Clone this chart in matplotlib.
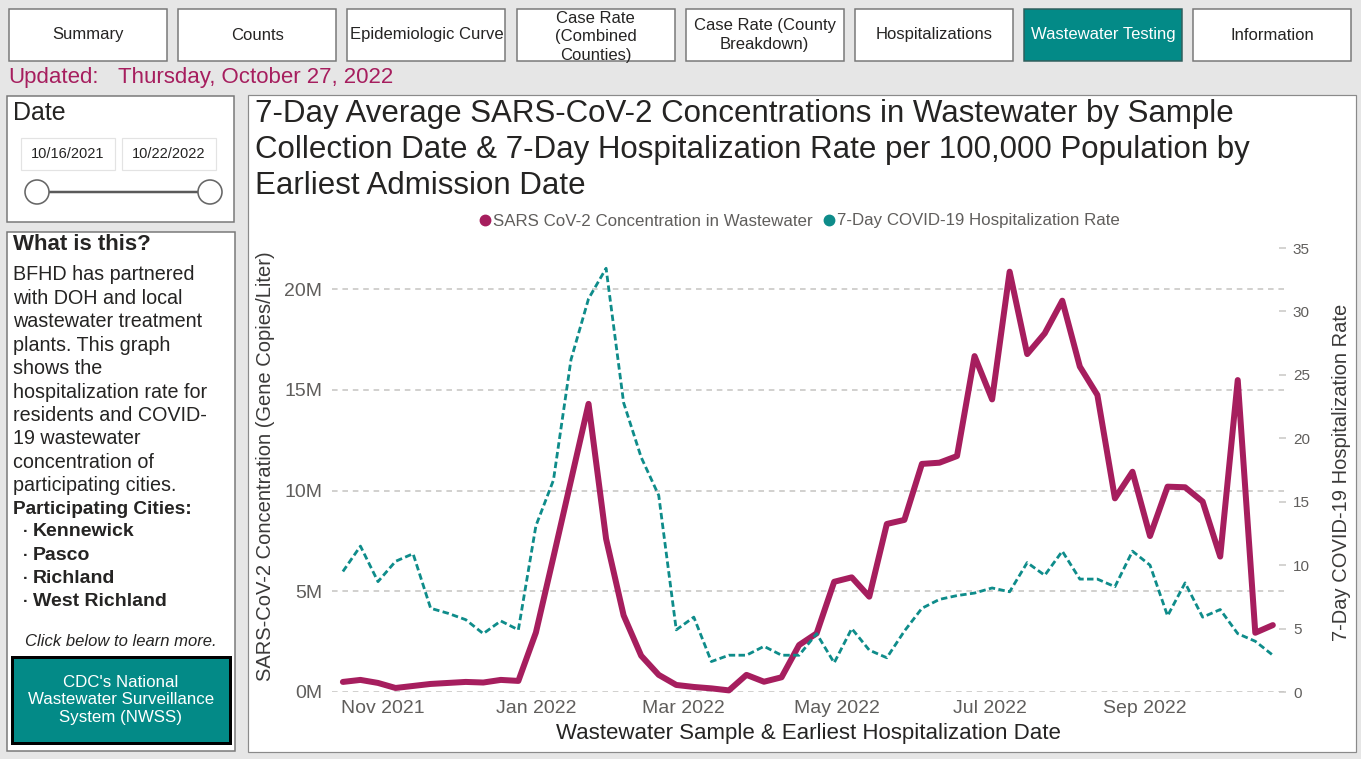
import matplotlib
matplotlib.use('Agg')
import matplotlib.pyplot as plt
import matplotlib.dates as mdates
from matplotlib.patches import Rectangle, Circle
from matplotlib.lines import Line2D
from matplotlib.ticker import FuncFormatter
import numpy as np
import pandas as pd

plt.rcParams['font.family'] = ['Liberation Sans', 'DejaVu Sans']

# weekly sample dates (10/16/2021 .. 10/22/2022)
weeks = pd.date_range('2021-10-16', '2022-10-22', freq='7D')

# 7-day avg SARS-CoV-2 concentration, millions of gene copies / liter
wastewater_m = [0.5, 0.6, 0.45, 0.2, 0.3, 0.4, 0.45, 0.5, 0.47, 0.6, 0.55,
                2.95, 6.7, 10.5, 14.3, 7.6, 3.8, 1.8, 0.85, 0.35,
                0.25, 0.18, 0.08,
                0.85, 0.51, 0.73, 2.33, 2.91, 5.47, 5.69, 4.73, 8.34, 8.54,
                11.32, 11.38, 11.71, 16.67, 14.52, 20.86, 16.77, 17.8, 19.42, 16.15,
                14.74, 9.61, 10.93, 7.74, 10.19, 10.16, 9.45, 6.72, 15.48, 2.94,
                3.32]

# 7-day hospitalization rate per 100,000
hosp_rate = [9.5, 11.5, 8.7, 10.3, 10.9, 6.6, 6.2, 5.7, 4.6, 5.6, 4.9,
             13.1, 16.7, 26.2, 31.0, 33.4, 22.8, 18.5, 15.5, 4.9, 5.9,
             2.4, 2.9, 2.9, 3.6, 2.9, 2.9, 4.6, 2.3, 5.0, 3.3,
             2.7, 4.8, 6.6, 7.3, 7.6, 7.8, 8.2, 7.9, 10.2, 9.2,
             11.1, 8.9, 8.9, 8.3, 11.1, 10.0, 6.0, 8.6, 5.9, 6.5,
             4.6, 4.0, 2.9]

month_ticks = ['2021-11-01', '2022-01-01', '2022-03-01', '2022-05-01', '2022-07-01', '2022-09-01']
left_ticks = [0, 5, 10, 15, 20]
right_ticks = [0, 5, 10, 15, 20, 25, 30, 35]

nav_labels = ['Summary', 'Counts', 'Epidemiologic Curve', 'Case Rate\n(Combined\nCounties)',
              'Case Rate (County\nBreakdown)', 'Hospitalizations', 'Wastewater Testing', 'Information']
active_tab = 'Wastewater Testing'

title_lines = ['7-Day Average SARS-CoV-2 Concentrations in Wastewater by Sample',
               'Collection Date & 7-Day Hospitalization Rate per 100,000 Population by',
               'Earliest Admission Date']
about_lines = ['BFHD has partnered', 'with DOH and local', 'wastewater treatment',
               'plants. This graph', 'shows the', 'hospitalization rate for',
               'residents and COVID-', '19 wastewater', 'concentration of',
               'participating cities.']
cities = ['Kennewick', 'Pasco', 'Richland', 'West Richland']

MAG = '#a61e5e'
TEAL = '#0e8c8a'
BTN_TEAL = '#038a87'
DARK = '#252423'
GREY = '#605e5c'
PT = 0.72  # points per pixel at dpi 100

W, H = 1361, 759
fig = plt.figure(figsize=(W / 100, H / 100), dpi=100)
fig.patch.set_facecolor('#e6e6e6')

bg = fig.add_axes([0, 0, 1, 1])
bg.set_xlim(0, W)
bg.set_ylim(H, 0)
bg.axis('off')
bg.set_zorder(0)

# nav bar
for i, lab in enumerate(nav_labels):
    x0 = 9 + i * 169.2
    on = lab == active_tab
    r = Rectangle((x0, 9), 158, 52, facecolor=BTN_TEAL if on else 'white',
                  edgecolor='#2f5e5c' if on else '#777777', lw=1.5 * PT)
    bg.add_patch(r)
    n = lab.count('\n') + 1
    yc = 35 if n < 3 else 37
    t = bg.text(x0 + 79, yc, lab, ha='center', va='center', fontsize=12,
                color='white' if on else DARK, linespacing=1.3)
    t.set_clip_path(r)

bg.text(8, 78, 'Updated:', fontsize=16, color=MAG, va='center')
bg.text(118, 77, 'Thursday, October 27, 2022', fontsize=16, color=MAG, va='center')

# date slicer panel
bg.add_patch(Rectangle((7, 96), 227, 126, facecolor='white', edgecolor='#777777', lw=1.5 * PT))
bg.text(13, 113, 'Date', fontsize=18, color=DARK, va='center')
for x0, s in [(21, '10/16/2021'), (122, '10/22/2022')]:
    bg.add_patch(Rectangle((x0, 138), 94, 32, facecolor='white', edgecolor='#e3e3e3', lw=1.2 * PT))
    bg.text(x0 + 47, 154, s, ha='center', va='center', fontsize=10.5, color=DARK)
bg.plot([37, 210], [192, 192], color='#5a5a5a', lw=2.5 * PT, zorder=2)
for cx in (37, 210):
    bg.add_patch(Circle((cx, 192), 12, facecolor='white', edgecolor='#666666', lw=1.6 * PT, zorder=3))

# "what is this" panel
bg.add_patch(Rectangle((7, 232), 228, 519, facecolor='white', edgecolor='#777777', lw=1.5 * PT))
bg.text(13, 245, 'What is this?', fontsize=16, fontweight='bold', color=DARK, va='center')
for k, s in enumerate(about_lines):
    bg.text(13, 275 + k * 23.4, s, fontsize=14.2, color=DARK, va='center')
bg.text(13, 509, 'Participating Cities:', fontsize=13.7, fontweight='bold', color=DARK, va='center')
for k, c in enumerate(cities):
    bg.text(23, 532 + k * 23.2, '·', fontsize=12, fontweight='bold', color=DARK, va='center')
    bg.text(33, 532 + k * 23.2, c, fontsize=14, fontweight='bold', color=DARK, va='center')
bg.text(121, 641, 'Click below to learn more.', fontsize=12, style='italic', color=DARK,
        ha='center', va='center')
bg.add_patch(Rectangle((12, 657), 218, 86, facecolor=BTN_TEAL, edgecolor='black', lw=3 * PT))
bg.text(121, 700, "CDC's National\nWastewater Surveillance\nSystem (NWSS)", fontsize=12.2,
        color='white', ha='center', va='center', linespacing=1.2)

# chart panel
bg.add_patch(Rectangle((248, 95), 1108, 657, facecolor='white', edgecolor='#8a8a8a', lw=1.2 * PT))
for k, s in enumerate(title_lines):
    bg.text(255, 114 + k * 36, s, fontsize=22.5, color=DARK, va='center')

bg.text(266, 466, 'SARS-CoV-2 Concentration (Gene Copies/Liter)', rotation=90, fontsize=14.5,
        color='#3b3a39', ha='center', va='center')
bg.text(1342, 472, '7-Day COVID-19 Hospitalization Rate', rotation=90, fontsize=14.5,
        color='#3b3a39', ha='center', va='center')
bg.text(808, 734, 'Wastewater Sample & Earliest Hospitalization Date', fontsize=16,
        color=DARK, ha='center', va='center')

# plot axes
L, R, T, B = 332, 1286, 248, 692
ax = fig.add_axes([L / W, 1 - B / H, (R - L) / W, (B - T) / H])
ax.set_zorder(1)
ax.patch.set_visible(False)
ax2 = ax.twinx()
ax2.set_zorder(2)
ax2.patch.set_visible(False)

ax.plot(weeks, np.array(wastewater_m) * 1e6, color=MAG, lw=6 * PT,
        solid_joinstyle='round', solid_capstyle='round', clip_on=False, zorder=3)
ax2.plot(weeks, hosp_rate, color=TEAL, lw=2.8 * PT, ls=(0, (2.3, 1.2)), clip_on=False)

nov1 = mdates.date2num(pd.Timestamp('2021-11-01'))
ppd = (1145 - 383) / 304.0
ax.set_xlim(nov1 - (383 - L) / ppd, nov1 + (R - 383) / ppd)
ax.set_ylim(0, 20e6 * (B - T) / (B - 289))
ax2.set_ylim(0, 35)

ax.set_xticks(pd.to_datetime(month_ticks))
ax.xaxis.set_major_formatter(mdates.DateFormatter('%b %Y'))
ax.set_yticks([v * 1e6 for v in left_ticks])
ax.yaxis.set_major_formatter(FuncFormatter(lambda v, p: f'{v / 1e6:.0f}M'))
ax.tick_params(axis='x', length=0, pad=6, labelsize=14, labelcolor=GREY)
ax.tick_params(axis='y', length=0, pad=7, labelsize=14, labelcolor=GREY)
ax.yaxis.grid(True, color='#c8c6c4', lw=1.6 * PT, ls=(0, (3.5, 3)))
ax.set_axisbelow(True)

ax2.set_yticks(right_ticks)
ax2.tick_params(axis='y', direction='in', length=5, width=1.5 * PT, color='#c8c6c4',
                pad=5, labelsize=11, labelcolor=GREY)
for a in (ax, ax2):
    for sp in a.spines.values():
        sp.set_visible(False)

handles = [Line2D([], [], marker='o', ls='none', color=MAG, markersize=7.5),
           Line2D([], [], marker='o', ls='none', color=TEAL, markersize=7.5)]
ax2.legend(handles, ['SARS CoV-2 Concentration in Wastewater', '7-Day COVID-19 Hospitalization Rate'],
           loc='center', bbox_to_anchor=(800 / W, 1 - 221 / H), bbox_transform=fig.transFigure,
           ncol=2, frameon=False, fontsize=12.2, labelcolor=GREY, handlelength=0.6,
           handletextpad=0.15, columnspacing=0.7, borderpad=0, borderaxespad=0)

fig.savefig('out.png', dpi=100, facecolor=fig.get_facecolor())
